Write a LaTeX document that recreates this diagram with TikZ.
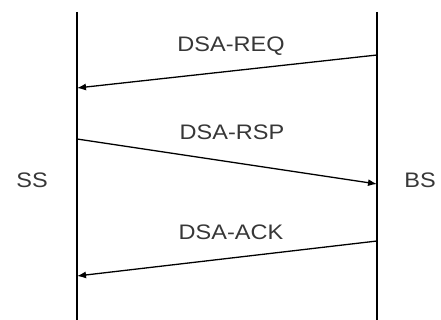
\documentclass[tikz,border=0pt]{standalone}
\usepackage{fontspec}
\setmainfont{Liberation Sans}
\newfontfamily\lblfont[FakeStretch=1.12]{Liberation Sans}
\usepackage{tikz}
\usetikzlibrary{arrows.meta}
\definecolor{LabelGray}{RGB}{55,55,55}
\tikzset{
  life/.style={draw=black,line width=1.6pt},
  msg/.style={draw=black,line width=1.3pt,-{Latex[length=9pt,width=7pt]}},
  lbl/.style={text=LabelGray,inner sep=0pt,font=\lblfont\fontsize{21}{24}\selectfont},
}

\begin{document}
\begin{tikzpicture}[x=1pt,y=-1pt]
\useasboundingbox (0,0) rectangle (441,320);
\coordinate (ssTop) at (77,12);
\coordinate (ssBot) at (77,320);
\coordinate (bsTop) at (377,12);
\coordinate (bsBot) at (377,320);
\coordinate (req1) at (377,55);
\coordinate (req2) at (77,88);
\coordinate (rsp1) at (77,139);
\coordinate (rsp2) at (377,184);
\coordinate (ack1) at (377,241);
\coordinate (ack2) at (77,276);
\draw[life] (ssTop) -- (ssBot);
\draw[life] (bsTop) -- (bsBot);
\draw[msg] (req1) -- (req2);
\draw[msg] (rsp1) -- (rsp2);
\draw[msg] (ack1) -- (ack2);
\node[lbl] (reqLbl) at (231,46) {DSA-REQ};
\node[lbl] (rspLbl) at (232,132) {DSA-RSP};
\node[lbl] (ackLbl) at (231,232) {DSA-ACK};
\node[lbl] (ss) at (32,180) {SS};
\node[lbl] (bs) at (420,180) {BS};
\end{tikzpicture}
\end{document}
